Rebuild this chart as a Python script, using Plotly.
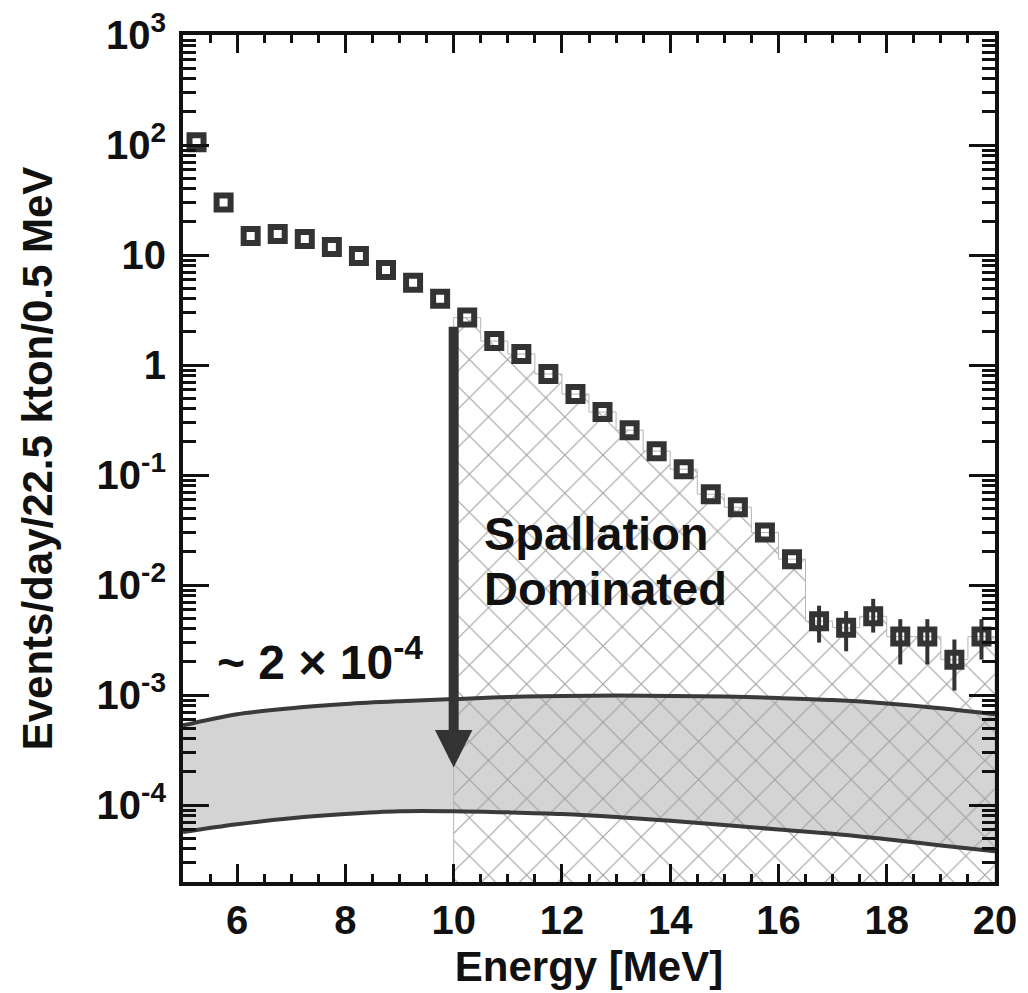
import math
import plotly.graph_objects as go

# ---------------- data ----------------
energy = [5.25, 5.75, 6.25, 6.75, 7.25, 7.75, 8.25, 8.75, 9.25, 9.75,
          10.25, 10.75, 11.25, 11.75, 12.25, 12.75, 13.25, 13.75, 14.25, 14.75,
          15.25, 15.75, 16.25, 16.75, 17.25, 17.75, 18.25, 18.75, 19.25, 19.75]
rate = [106, 30, 14.9, 15.5, 14.0, 11.8, 9.8, 7.3, 5.6, 4.0,
        2.7, 1.65, 1.26, 0.83, 0.545, 0.374, 0.256, 0.165, 0.113, 0.067,
        0.051, 0.030, 0.0172, 0.0047, 0.0041, 0.0052, 0.0034, 0.0034, 0.0021, 0.0034]
err_up = [0] * 23 + [0.0018, 0.0017, 0.0023, 0.0015, 0.0015, 0.0011, 0.0015]
err_dn = [0] * 23 + [0.0017, 0.0016, 0.0015, 0.0015, 0.0015, 0.0010, 0.0013]

band_x = [5, 6, 7, 8, 9, 10, 11, 12, 13, 14, 15, 16, 17, 18, 19, 20]
band_hi = [5.3e-4, 6.7e-4, 7.6e-4, 8.3e-4, 8.8e-4, 9.2e-4, 9.6e-4, 9.8e-4,
           9.9e-4, 9.8e-4, 9.7e-4, 9.4e-4, 9.0e-4, 8.4e-4, 7.6e-4, 6.7e-4]
band_lo = [5.7e-5, 6.7e-5, 7.6e-5, 8.3e-5, 8.8e-5, 8.8e-5, 8.6e-5, 8.3e-5,
           7.8e-5, 7.2e-5, 6.6e-5, 6.0e-5, 5.5e-5, 4.9e-5, 4.3e-5, 3.8e-5]

bin_width = 0.5
spall_start = 10.0
arrow_top = 2.3
arrow_tip = 2.2e-4

y_tickvals = [1e-4, 1e-3, 1e-2, 1e-1, 1, 10, 100, 1000]
y_ticktext = ["10<sup>-4</sup>", "10<sup>-3</sup>", "10<sup>-2</sup>", "10<sup>-1</sup>",
              "1", "10", "10<sup>2</sup>", "10<sup>3</sup>"]

FONT = "Liberation Sans, Arial, Helvetica, sans-serif"
DARK = "#333333"
YRANGE = [math.log10(2e-5), 3]

# ---------------- hatched (spallation) region as step polygon ----------------
floor = 1e-7
hx, hy = [spall_start], [floor]
for e, r in zip(energy, rate):
    if e > spall_start:
        hx += [e - bin_width / 2, e + bin_width / 2]
        hy += [r, r]
hx.append(hx[-1])
hy.append(floor)

fig = go.Figure()

# gray band
fig.add_trace(go.Scatter(x=band_x, y=band_lo, mode="lines", line=dict(width=0, shape="spline"),
                         showlegend=False, hoverinfo="skip"))
fig.add_trace(go.Scatter(x=band_x, y=band_hi, mode="lines", line=dict(width=0, shape="spline"),
                         fill="tonexty", fillcolor="#d4d4d4", showlegend=False, hoverinfo="skip"))

# hatched region
fig.add_trace(go.Scatter(x=hx, y=hy, mode="lines", fill="toself",
                         line=dict(color="#b5b5b5", width=1),
                         fillcolor="rgba(0,0,0,0)",
                         fillpattern=dict(shape="x", size=27, solidity=0.08,
                                          fgcolor="#a0a0a0", bgcolor="rgba(0,0,0,0)",
                                          fillmode="replace"),
                         showlegend=False, hoverinfo="skip"))

# band edge lines
for yy in (band_hi, band_lo):
    fig.add_trace(go.Scatter(x=band_x, y=yy, mode="lines",
                             line=dict(color="#3a3a3a", width=4, shape="spline"),
                             showlegend=False, hoverinfo="skip"))

# data points
fig.add_trace(go.Scatter(x=energy, y=rate, mode="markers",
                         marker=dict(symbol="square-open", size=14, color=DARK,
                                     line=dict(width=6, color=DARK)),
                         error_y=dict(type="data", array=err_up, arrayminus=err_dn,
                                      symmetric=False, thickness=4, width=0, color=DARK),
                         showlegend=False))

# invisible trace to activate the label axis (y2)
fig.add_trace(go.Scatter(x=energy[:1], y=rate[:1], yaxis="y2", mode="markers",
                         marker=dict(opacity=0), showlegend=False, hoverinfo="skip"))

# arrow
fig.add_annotation(x=spall_start, y=math.log10(arrow_tip), ax=spall_start, ay=math.log10(arrow_top),
                   xref="x", yref="y", axref="x", ayref="y", text="", showarrow=True,
                   arrowhead=2, arrowsize=0.75, arrowwidth=10, arrowcolor=DARK, standoff=0)

# text annotations
fig.add_annotation(x=5.6, y=-2.673, xref="x", yref="y", xanchor="left", yanchor="middle",
                   text="<b>~ 2 × 10<sup>-4</sup></b>", showarrow=False,
                   font=dict(family=FONT, size=48, color="#111111"))
fig.add_annotation(x=10.52, y=-1.53, xref="x", yref="y", xanchor="left", yanchor="middle",
                   text="<b>Spallation</b>", showarrow=False,
                   font=dict(family=FONT, size=47, color="#111111"))
fig.add_annotation(x=10.52, y=-2.03, xref="x", yref="y", xanchor="left", yanchor="middle",
                   text="<b>Dominated</b>", showarrow=False,
                   font=dict(family=FONT, size=47, color="#111111"))

fig.update_layout(
    width=1028, height=993,
    margin=dict(l=183, r=33, t=35, b=111),
    paper_bgcolor="white", plot_bgcolor="white",
    font=dict(family=FONT, color="#111111"),
    showlegend=False,
    xaxis=dict(
        range=[5, 20], tickmode="linear", tick0=0, dtick=2, ticks="inside", ticklen=18, tickwidth=3,
        tickcolor="#111111", showline=True, linewidth=4, linecolor="#111111", mirror="ticks",
        showgrid=False, zeroline=False, automargin=False,
        minor=dict(tickmode="linear", tick0=0, dtick=0.5, ticks="inside", ticklen=8, tickwidth=3,
                   tickcolor="#111111", showgrid=False),
        tickfont=dict(family=FONT, size=40, weight="bold"),
        title=dict(text="Energy [MeV]", font=dict(family=FONT, size=42, weight="bold"), standoff=12),
    ),
    yaxis=dict(
        type="log", range=YRANGE, tickmode="linear", tick0=0, dtick=1,
        ticks="inside", ticklen=26, tickwidth=3, tickcolor="#111111",
        showline=True, linewidth=4, linecolor="#111111", mirror="ticks",
        showgrid=False, zeroline=False, showticklabels=False, automargin=False,
        minor=dict(dtick="D1", ticks="inside", ticklen=13, tickwidth=2.5,
                   tickcolor="#111111", showgrid=False),
    ),
    yaxis2=dict(
        type="log", range=YRANGE, overlaying="y", side="left", anchor="x",
        tickmode="array", tickvals=y_tickvals, ticktext=y_ticktext, ticks="",
        showline=False, showgrid=False, zeroline=False, automargin=False,
        tickfont=dict(family=FONT, size=40, weight="bold"), ticklabelstandoff=16,
        title=dict(text="Events/day/22.5 kton/0.5 MeV",
                   font=dict(family=FONT, size=42, weight="bold"), standoff=30),
    ),
)

fig.write_html("out.html")
